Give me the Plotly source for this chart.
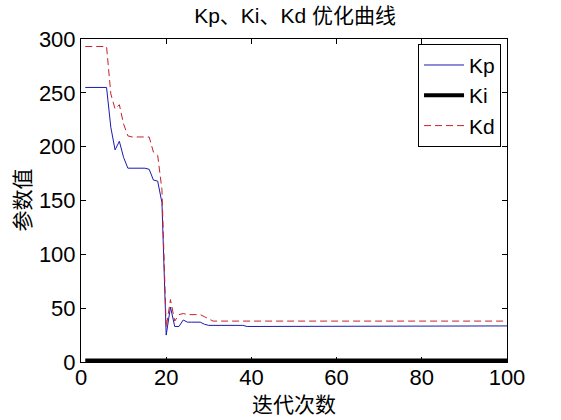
import plotly.graph_objects as go

# 迭代次数 1..100
iters = list(range(1, 101))

kp = ([255, 255, 255, 255, 255, 255, 218, 197, 205, 190,
       180, 180, 180, 180, 180, 179, 169, 168, 148, 25,
       51, 33, 33, 39, 37, 37, 37, 37, 35, 34]
      + [34] * 8 + [33] * 17 + [33.5] * 45)

ki = [1.5] * 100

kd = ([293, 293, 293, 293, 293, 293, 249, 235, 239, 221,
       210, 209, 209, 209, 209, 209, 195, 192, 160, 32,
       58, 38, 44, 45, 44, 44, 44, 44, 42, 40]
      + [38] * 70)

xticks = [0, 20, 40, 60, 80, 100]
yticks = [0, 50, 100, 150, 200, 250, 300]

font_main = "Liberation Sans, Arial, Noto Sans CJK SC"
font_cjk = "Noto Sans CJK SC, Liberation Sans"

fig = go.Figure()
fig.add_trace(go.Scatter(x=iters, y=kp, mode="lines", name="Kp",
                         line=dict(color="#1a1ab0", width=1)))
fig.add_trace(go.Scatter(x=iters, y=ki, mode="lines", name="Ki",
                         line=dict(color="black", width=4)))
fig.add_trace(go.Scatter(x=iters, y=kd, mode="lines", name="Kd",
                         line=dict(color="#c8202a", width=1, dash="7px,4px")))

axis_common = dict(
    showgrid=False, zeroline=False, showline=True, mirror="ticks",
    linecolor="black", linewidth=1, ticks="inside", ticklen=5,
    tickcolor="black", tickfont=dict(family=font_main, size=22, color="black"),
)

fig.update_layout(
    width=561, height=420,
    margin=dict(l=81, r=54, t=39, b=58),
    plot_bgcolor="white", paper_bgcolor="white",
    title=dict(text="Kp、Ki、Kd 优化曲线", x=0.526, xanchor="center",
               y=1 - 16 / 420, yanchor="middle",
               font=dict(family=font_main, size=21, color="black")),
    xaxis=dict(range=[0, 100], tickvals=xticks, ticklabelstandoff=-4,
               **axis_common),
    yaxis=dict(range=[0, 300], tickvals=yticks, **axis_common),
    legend=dict(x=0.986, y=0.985, xanchor="right", yanchor="top",
                bordercolor="black", borderwidth=1, bgcolor="white",
                font=dict(family=font_main, size=21, color="black"),
                itemwidth=40, tracegroupgap=0),
    showlegend=True,
    annotations=[
        dict(text="迭代次数", xref="paper", yref="paper", x=0.5, y=-0.127,
             xanchor="center", yanchor="middle", showarrow=False,
             font=dict(family=font_cjk, size=21, color="black")),
        dict(text="参数值", xref="paper", yref="paper", x=-0.143, y=0.5,
             xanchor="center", yanchor="middle", showarrow=False, textangle=-90,
             font=dict(family=font_cjk, size=21, color="black")),
    ],
)

# body的默认8px边距去掉, 否则整图下移右移
fig.write_html("out.html", config={"displayModeBar": False},
               post_script="document.body.style.margin='0';")
